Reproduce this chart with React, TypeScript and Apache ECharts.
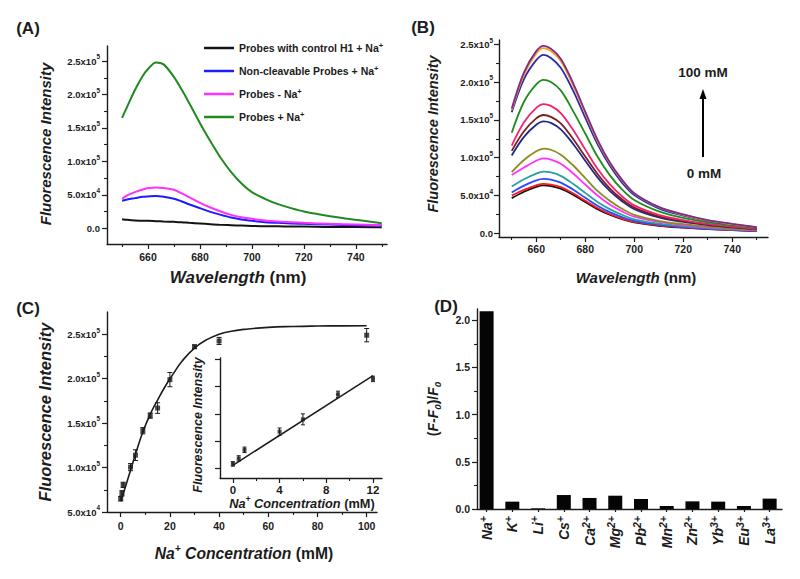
import React, { useEffect, useRef } from "react";
import * as echarts from "echarts";

const FONT = "'Liberation Sans', Arial, Helvetica, sans-serif";
const INK = "#1c1c1c";

// ---------- Panel A ----------
const WL_A = [650, 652, 655, 658, 660, 663, 666, 670, 673, 676, 680, 684, 688, 692, 696, 700, 705, 710, 715, 720, 730, 740, 750];
const A_CONTROL_H1 = [13500, 12500, 11500, 11000, 11000, 10500, 10000, 9500, 9000, 8000, 7000, 6000, 5000, 4500, 4000, 3500, 3000, 3000, 2500, 2500, 2000, 2000, 1500];
const A_NONCLEAVABLE = [41000, 43000, 45000, 47000, 47500, 48000, 47000, 44000, 40000, 35500, 30000, 24500, 20000, 16000, 13000, 11000, 9000, 8000, 7000, 6500, 5500, 4500, 4000];
const A_PROBES_MINUS = [44000, 49000, 54000, 58000, 60000, 61000, 60000, 57500, 52000, 46000, 38000, 31000, 25000, 20000, 16500, 14000, 11500, 10000, 9000, 8000, 6500, 5500, 4500];
const A_PROBES_PLUS = [165000, 182000, 207000, 228000, 238000, 248000, 245000, 226000, 207000, 186000, 157000, 130000, 105000, 84000, 67000, 54000, 44000, 36000, 30000, 25000, 18000, 12500, 7500];
const A_NAMES = ["Probes with control H1 + Na+", "Non-cleavable Probes + Na+", "Probes - Na+", "Probes + Na+"];
const A_COLORS = ["#141414", "#1c1cff", "#ff30ff", "#1f8a1f"];

// ---------- Panel B ----------
const WL_B = [650, 655, 660, 663, 666, 670, 675, 680, 685, 690, 695, 700, 710, 720, 730, 740, 750];
const B_01 = [165000, 213000, 241000, 248000, 244000, 231000, 199000, 161000, 124000, 94000, 71000, 53000, 35000, 25000, 17500, 12500, 8000];
const B_02 = [163000, 210000, 238000, 245000, 241000, 228000, 196000, 159000, 122000, 93000, 70000, 52500, 34500, 24500, 17000, 12000, 7800];
const B_03 = [160000, 204000, 229000, 236000, 232000, 219000, 189000, 153000, 118000, 89500, 67000, 50500, 33000, 23500, 16500, 11800, 7500];
const B_04 = [133000, 174000, 197000, 203000, 200000, 189000, 162000, 132000, 101500, 77000, 58000, 44000, 29000, 20500, 14500, 10500, 6800];
const B_05 = [116000, 147000, 166000, 171000, 168500, 159000, 137000, 111000, 85500, 65000, 49000, 37000, 24500, 17500, 12500, 9000, 6000];
const B_06 = [109000, 135000, 152000, 156500, 154000, 145500, 125000, 101500, 78500, 59500, 45000, 34000, 22500, 16000, 11500, 8300, 5500];
const B_07 = [103000, 127500, 143500, 148000, 146000, 137500, 118500, 96000, 74000, 56000, 42500, 32000, 21000, 15000, 10800, 7800, 5200];
const B_08 = [81000, 97000, 108500, 112000, 110500, 104000, 90000, 73000, 56000, 43000, 32500, 24500, 16500, 12000, 8800, 6500, 4500];
const B_09 = [77000, 87000, 96000, 99000, 97500, 92000, 79500, 64500, 50000, 38000, 29000, 22000, 15000, 11000, 8000, 6000, 4200];
const B_10 = [62000, 71500, 79000, 81500, 80500, 76000, 65500, 53500, 41500, 32000, 24500, 18500, 12800, 9500, 7000, 5300, 3800];
const B_11 = [54000, 63000, 70000, 72000, 71000, 67000, 58000, 47000, 36500, 28000, 21500, 16500, 11500, 8500, 6300, 4800, 3500];
const B_12 = [50000, 57500, 63500, 65500, 64500, 61000, 53000, 43000, 33500, 25500, 19500, 15000, 10500, 7800, 5800, 4400, 3200];
const B_13 = [46500, 55000, 61500, 63500, 62500, 59000, 51000, 41500, 32000, 24500, 18700, 14500, 10000, 7500, 5600, 4200, 3000];
const B_SERIES = [B_13, B_12, B_11, B_10, B_09, B_08, B_07, B_06, B_05, B_04, B_03, B_02, B_01];
const B_COLORS = ["#111111", "#ff1a1a", "#2a4aff", "#2aa0a0", "#ff33ff", "#8c8c1f", "#1f2a8c", "#7a1f1f", "#f0246e", "#1e8c1e", "#2a2ab0", "#ff9a1a", "#7b2d8e"];

// ---------- Panel C ----------
const C_CONC = [0, 0.5, 1, 4, 6, 9, 12, 15, 20, 30, 40, 100];
const C_INT = [65000, 71000, 80500, 100500, 114000, 141500, 158500, 167000, 199000, 236000, 242500, 249000];
const C_ERR = [2500, 3000, 3000, 4000, 6000, 3500, 3000, 6000, 8000, 2000, 4000, 7500];
const C_FIT_X = [0, 2, 4, 6, 9, 12, 15, 18, 21, 25, 30, 35, 40, 45, 50, 60, 70, 80, 90, 100];
const C_FIT_Y = [62000, 79000, 97000, 115000, 140000, 160000, 176000, 191000, 204000, 220000, 234500, 244000, 250000, 253500, 255500, 257800, 258800, 259300, 259500, 259600];
const INSET_FIT_X = [0, 12];
const INSET_FIT_Y = [63500, 162000];

// ---------- Panel D ----------
const D_IONS = ["Na", "K", "Li", "Cs", "Ca", "Mg", "Pb", "Mn", "Zn", "Yb", "Eu", "La"];
const D_CHARGES = ["+", "+", "+", "+", "2+", "2+", "2+", "2+", "2+", "3+", "3+", "3+"];
const D_VALUES = [2.095, 0.078, 0.007, 0.148, 0.117, 0.141, 0.106, 0.032, 0.081, 0.078, 0.032, 0.11];

function sci(v: number): string {
  if (Math.abs(v) < 1e-9) return "0.0";
  const e = Math.floor(Math.log10(Math.abs(v)) + 1e-9);
  const m = v / Math.pow(10, e);
  return m.toFixed(1) + "x10{sup|" + e + "}";
}

function rs(size: number, italic: boolean, extra: any = {}) {
  return { fontSize: size, fontWeight: "bold", fontStyle: italic ? "italic" : "normal", fontFamily: FONT, color: INK, fill: INK, ...extra };
}

function buildOption() {
  const xAxes: any[] = [];
  const yAxes: any[] = [];

  function axisPair(list: any[], dim: "x" | "y", grid: number, min: number, max: number, majors: number[], minors: number[], label: any) {
    const pos = dim === "x" ? "bottom" : "left";
    const majorIdx = list.length;
    list.push({
      type: "value",
      gridIndex: grid,
      position: pos,
      min,
      max,
      splitLine: { show: false },
      axisLine: { show: true, onZero: false, lineStyle: { color: INK, width: 1.4 } },
      axisTick: { show: true, inside: false, length: 5, customValues: majors, lineStyle: { color: INK, width: 1.2 } },
      axisLabel: label ? { show: true, customValues: majors, ...label } : { show: false, customValues: majors },
    });
    if (minors.length) {
      list.push({
        type: "value",
        gridIndex: grid,
        position: pos,
        min,
        max,
        splitLine: { show: false },
        axisLine: { show: false, onZero: false },
        axisTick: { show: true, inside: false, length: 3, customValues: minors, lineStyle: { color: INK, width: 1.1 } },
        axisLabel: { show: false, customValues: minors },
      });
    }
    return majorIdx;
  }

  const supRich = (s: number) => ({
    sup: { fontSize: s * 0.68, fontWeight: "bold", fontFamily: FONT, color: INK, verticalAlign: "top", lineHeight: s * 0.65 },
  });
  const sciLabel = (s: number, margin: number) => ({
    formatter: (v: number) => sci(v),
    fontSize: s,
    fontWeight: "bold",
    fontFamily: FONT,
    color: INK,
    lineHeight: s + 5,
    margin,
    rich: supRich(s),
  });
  const numLabel = (s: number, margin: number) => ({
    formatter: (v: number) => String(v),
    fontSize: s,
    fontWeight: "bold",
    fontFamily: FONT,
    color: INK,
    margin,
  });

  const grids = [
    { left: 107, top: 46, width: 280, height: 198 },
    { left: 499, top: 40, width: 269, height: 197 },
    { left: 107, top: 312, width: 270, height: 200 },
    { left: 220, top: 358, width: 162, height: 120 },
    { left: 477, top: 309, width: 305, height: 200 },
  ];

  const wlMajors = [660, 680, 700, 720, 740];
  const wlMinors = [650, 670, 690, 710, 730, 750];

  // A
  const axA = axisPair(xAxes, "x", 0, 644.2, 752, wlMajors, wlMinors, numLabel(10.5, 7));
  const ayA = axisPair(yAxes, "y", 0, -23600, 272500, [0, 50000, 100000, 150000, 200000, 250000], [25000, 75000, 125000, 175000, 225000], sciLabel(9.5, 7));
  // B
  const axB = axisPair(xAxes, "x", 1, 644.8, 754.6, wlMajors, wlMinors, numLabel(10.5, 6));
  const ayB = axisPair(yAxes, "y", 1, -4900, 255700, [0, 50000, 100000, 150000, 200000, 250000], [25000, 75000, 125000, 175000, 225000], sciLabel(9.5, 6));
  // C
  const axC = axisPair(xAxes, "x", 2, -5.57, 104.2, [0, 20, 40, 60, 80, 100], [10, 30, 50, 70, 90], numLabel(10.5, 8));
  const ayC = axisPair(yAxes, "y", 2, 50000, 275100, [50000, 100000, 150000, 200000, 250000], [75000, 125000, 175000, 225000], sciLabel(9.5, 7));
  // Inset
  const axI = axisPair(xAxes, "x", 3, -1.1, 12.77, [0, 4, 8, 12], [2, 6, 10], numLabel(11.5, 6));
  const ayI = axisPair(yAxes, "y", 3, 49500, 181500, [60000, 90000, 120000, 150000, 180000], [], null);
  // D
  const axD = axisPair(xAxes, "x", 4, -0.373, 11.48, D_IONS.map((_, i) => i), [], {
    formatter: (v: number) => {
      const i = Math.round(v);
      return "{i|" + D_IONS[i] + "}{sup|" + D_CHARGES[i] + "}";
    },
    rotate: 90,
    margin: 7,
    rich: {
      i: rs(14, true, { lineHeight: 19 }),
      sup: rs(10.5, true, { verticalAlign: "top", lineHeight: 10 }),
    },
  });
  xAxes[axD].axisTick.length = 3;
  const ayD = axisPair(yAxes, "y", 4, 0, 2.12, [0, 0.5, 1, 1.5, 2], [0.25, 0.75, 1.25, 1.75], {
    formatter: (v: number) => v.toFixed(1),
    fontSize: 10.5,
    fontWeight: "bold",
    fontFamily: FONT,
    color: INK,
    margin: 7,
  });

  const series: any[] = [];

  // A series
  const aData = [A_CONTROL_H1, A_NONCLEAVABLE, A_PROBES_MINUS, A_PROBES_PLUS];
  aData.forEach((arr, k) => {
    series.push({
      name: A_NAMES[k],
      type: "line",
      xAxisIndex: axA,
      yAxisIndex: ayA,
      data: WL_A.map((w, i) => [w, arr[i]]),
      symbol: "none",
      smooth: 0.3,
      lineStyle: { color: A_COLORS[k], width: 2 },
      itemStyle: { color: A_COLORS[k] },
      z: 3 + k,
    });
  });

  // B series
  B_SERIES.forEach((arr, k) => {
    series.push({
      name: "B" + k,
      type: "line",
      xAxisIndex: axB,
      yAxisIndex: ayB,
      data: WL_B.map((w, i) => [w, arr[i]]),
      symbol: "none",
      smooth: 0.35,
      lineStyle: { color: B_COLORS[k], width: 1.8 },
      itemStyle: { color: B_COLORS[k] },
    });
  });

  const errRender = (cap: number) => (params: any, api: any) => {
    const x = api.value(0);
    const y = api.value(1);
    const e = api.value(2);
    const t = api.coord([x, y + e]);
    const b = api.coord([x, y - e]);
    const st = { stroke: INK, lineWidth: 1 };
    return {
      type: "group",
      children: [
        { type: "line", shape: { x1: t[0], y1: t[1], x2: b[0], y2: b[1] }, style: st },
        { type: "line", shape: { x1: t[0] - cap, y1: t[1], x2: t[0] + cap, y2: t[1] }, style: st },
        { type: "line", shape: { x1: b[0] - cap, y1: b[1], x2: b[0] + cap, y2: b[1] }, style: st },
      ],
    };
  };

  // C series
  series.push({
    name: "fit",
    type: "line",
    xAxisIndex: axC,
    yAxisIndex: ayC,
    data: C_FIT_X.map((c, i) => [c, C_FIT_Y[i]]),
    symbol: "none",
    smooth: 0.5,
    lineStyle: { color: INK, width: 1.6 },
  });
  series.push({
    name: "errC",
    type: "custom",
    xAxisIndex: axC,
    yAxisIndex: ayC,
    data: C_CONC.map((c, i) => [c, C_INT[i], C_ERR[i]]),
    encode: { x: 0, y: 1 },
    renderItem: errRender(2.5),
    z: 5,
  });
  series.push({
    name: "ptsC",
    type: "scatter",
    xAxisIndex: axC,
    yAxisIndex: ayC,
    data: C_CONC.map((c, i) => [c, C_INT[i]]),
    symbol: "rect",
    symbolSize: 5,
    itemStyle: { color: INK },
    z: 6,
  });
  // Inset
  const insetIdx = C_CONC.map((c, i) => i).filter((i) => C_CONC[i] <= 12);
  series.push({
    name: "fitI",
    type: "line",
    xAxisIndex: axI,
    yAxisIndex: ayI,
    data: INSET_FIT_X.map((c, i) => [c, INSET_FIT_Y[i]]),
    symbol: "none",
    lineStyle: { color: INK, width: 1.5 },
  });
  series.push({
    name: "errI",
    type: "custom",
    xAxisIndex: axI,
    yAxisIndex: ayI,
    data: insetIdx.map((i) => [C_CONC[i], C_INT[i], C_ERR[i]]),
    encode: { x: 0, y: 1 },
    renderItem: errRender(2),
    z: 5,
  });
  series.push({
    name: "ptsI",
    type: "scatter",
    xAxisIndex: axI,
    yAxisIndex: ayI,
    data: insetIdx.map((i) => [C_CONC[i], C_INT[i]]),
    symbol: "rect",
    symbolSize: 4,
    itemStyle: { color: INK },
    z: 6,
  });

  // D series
  series.push({
    name: "D",
    type: "bar",
    xAxisIndex: axD,
    yAxisIndex: ayD,
    data: D_VALUES.map((v, i) => [i, v]),
    barWidth: 14,
    itemStyle: { color: "#050505" },
  });

  const T = (text: string, x: number, y: number, size: number, rich: any, rot = 0, align = "center") => ({
    type: "text",
    x,
    y,
    rotation: rot,
    style: {
      text,
      fill: INK,
      fontSize: size,
      fontWeight: "bold",
      fontFamily: FONT,
      textAlign: align,
      textVerticalAlign: "middle",
      align,
      verticalAlign: "middle",
      rich,
    },
    z: 100,
  });

  const titleRich = (s: number) => ({
    bi: rs(s, true, { lineHeight: s + 4 }),
    b: rs(s, false, { lineHeight: s + 4 }),
    sup: rs(s * 0.65, true, { verticalAlign: "top", lineHeight: s * 0.6 }),
    sub: rs(s * 0.7, true, { verticalAlign: "bottom", lineHeight: s * 0.6 }),
  });

  const R = Math.PI / 2;
  const graphic: any[] = [
    T("{b|(A)}", 28, 28, 17, titleRich(17)),
    T("{b|(B)}", 423, 27, 17, titleRich(17)),
    T("{b|(C)}", 28, 308, 17, titleRich(17)),
    T("{b|(D)}", 446, 306, 17, titleRich(17)),
    T("{bi|Fluorescence Intensity}", 45, 144, 15, titleRich(15), R),
    T("{bi|Wavelength} {b|(nm)}", 238, 277, 17, titleRich(17)),
    T("{bi|Fluorescence Intensity}", 433, 134, 14.5, titleRich(14.5), R),
    T("{bi|Wavelength} {b|(nm)}", 636, 277, 15, titleRich(15)),
    T("{bi|Fluorescence Intensity}", 45, 412, 16.5, titleRich(16.5), R),
    T("{bi|Na}{sup|+} {bi|Concentration} {b|(mM)}", 244, 553, 15.7, titleRich(15.7)),
    T("{bi|Fluorescence Intensity}", 198, 425, 12.5, titleRich(12.5), R),
    T("{bi|Na}{sup|+} {bi|Concentration} {b|(mM)}", 302, 503, 12.8, titleRich(12.8)),
    T("{b|(}{bi|F-F}{sub|0}{b|)/}{bi|F}{sub|0}", 433, 409, 14, titleRich(14), R),
    T("{b|100 mM}", 703, 72, 13.5, titleRich(13.5)),
    T("{b|0 mM}", 704, 173, 13.5, titleRich(13.5)),
    {
      type: "line",
      shape: { x1: 703, y1: 157, x2: 703, y2: 97 },
      style: { stroke: "#000", lineWidth: 2 },
      z: 100,
    },
    {
      type: "polygon",
      shape: { points: [[699.5, 99], [706.5, 99], [703, 89]] },
      style: { fill: "#000" },
      z: 100,
    },
  ];

  return {
    animation: false,
    backgroundColor: "#ffffff",
    grid: grids,
    xAxis: xAxes,
    yAxis: yAxes,
    legend: {
      data: A_NAMES,
      orient: "vertical",
      left: 199,
      top: 36,
      itemWidth: 30,
      itemHeight: 14,
      itemGap: 9,
      selectedMode: false,
      icon: "path://M0,6 L30,6 L30,8.5 L0,8.5 Z",
      formatter: (name: string) => name.replace(/\+$/, "{sup|+}"),
      textStyle: {
        fontSize: 10.5,
        fontWeight: "bold",
        fontFamily: FONT,
        color: INK,
        lineHeight: 14,
        rich: {
          sup: { fontSize: 7.5, fontWeight: "bold", fontFamily: FONT, color: INK, verticalAlign: "top", lineHeight: 7 },
        },
      },
    },
    series,
    graphic,
  };
}

export default function App() {
  const ref = useRef<HTMLDivElement>(null);
  useEffect(() => {
    if (!ref.current) return;
    const chart = echarts.init(ref.current, undefined, { renderer: "svg" });
    chart.setOption(buildOption() as any);
    return () => chart.dispose();
  }, []);
  return (
    <div
      ref={ref}
      style={{ position: "absolute", left: 0, top: 0, width: 800, height: 579, background: "#fff" }}
    />
  );
}
